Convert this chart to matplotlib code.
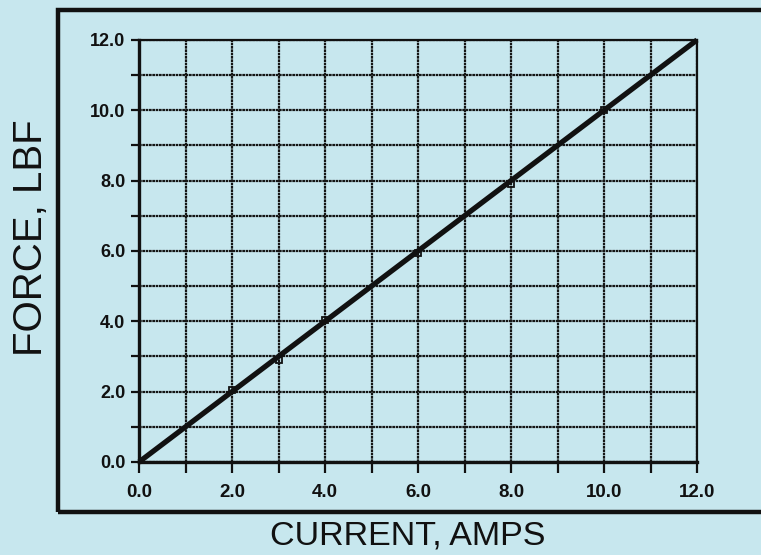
import numpy as np
import matplotlib
matplotlib.use("Agg")
import matplotlib.pyplot as plt
from matplotlib.patches import Rectangle
from matplotlib.ticker import MultipleLocator, FormatStrFormatter

# measured points and fitted line
current = [2.0, 3.0, 4.0, 6.0, 8.0, 10.0]
force = [2.05, 2.9, 4.05, 5.95, 7.9, 10.0]
fit_x = [0.0, 12.0]
fit_y = [0.0, 12.0]

x_label = "CURRENT, AMPS"
y_label = "FORCE, LBF"

bg = "#c7e7ee"
plt.rcParams['font.family'] = ['Liberation Sans', 'DejaVu Sans']

fig = plt.figure(figsize=(7.61, 5.55), dpi=100, facecolor=bg)
ax = fig.add_axes([0.1827, 0.1676, 0.9159 - 0.1827, 0.928 - 0.1676])
ax.set_facecolor(bg)

# outer frame
fig.patches.append(Rectangle((0.0762, 0.0775), 1.0, 0.982 - 0.0775,
                             transform=fig.transFigure, fill=False,
                             edgecolor="#111111", linewidth=3.2, zorder=0))

ax.set_xlim(0, 12)
ax.set_ylim(0, 12)
ax.xaxis.set_major_locator(MultipleLocator(2))
ax.xaxis.set_minor_locator(MultipleLocator(1))
ax.yaxis.set_major_locator(MultipleLocator(2))
ax.yaxis.set_minor_locator(MultipleLocator(1))
ax.xaxis.set_major_formatter(FormatStrFormatter('%.1f'))
ax.yaxis.set_major_formatter(FormatStrFormatter('%.1f'))

ax.grid(True, which='both', color='#151515', linewidth=1.6,
        linestyle=(0, (1.2, 0.3)))
ax.set_axisbelow(True)

for side in ['left', 'bottom']:
    ax.spines[side].set_linewidth(2.4)
for side in ['top', 'right']:
    ax.spines[side].set_linewidth(1.6)
for s in ax.spines.values():
    s.set_color('#111111')

ax.tick_params(axis='x', which='both', direction='out', length=8, width=1.6,
               pad=8, labelsize=13.5, colors='#111111')
ax.tick_params(axis='y', which='both', direction='out', length=6, width=1.6,
               pad=4, labelsize=13, colors='#111111')
for lab in ax.get_xticklabels() + ax.get_yticklabels():
    lab.set_fontweight('semibold')

ax.plot(current, force, linestyle='none', marker='s', markersize=5,
        markerfacecolor='none', markeredgecolor='#111111',
        markeredgewidth=1.3, zorder=3)
ax.plot(fit_x, fit_y, color='#111111', linewidth=3.8, zorder=4,
        solid_capstyle='butt', clip_on=False)

fig.text(408 / 761, 1 - 536 / 555, x_label, ha='center', va='center',
         fontsize=24.5, color='#111111')
fig.text(31 / 761, 1 - 238 / 555, y_label, ha='center', va='center',
         rotation=90, fontsize=29, color='#111111')

fig.savefig("out.png", dpi=100, facecolor=bg)
